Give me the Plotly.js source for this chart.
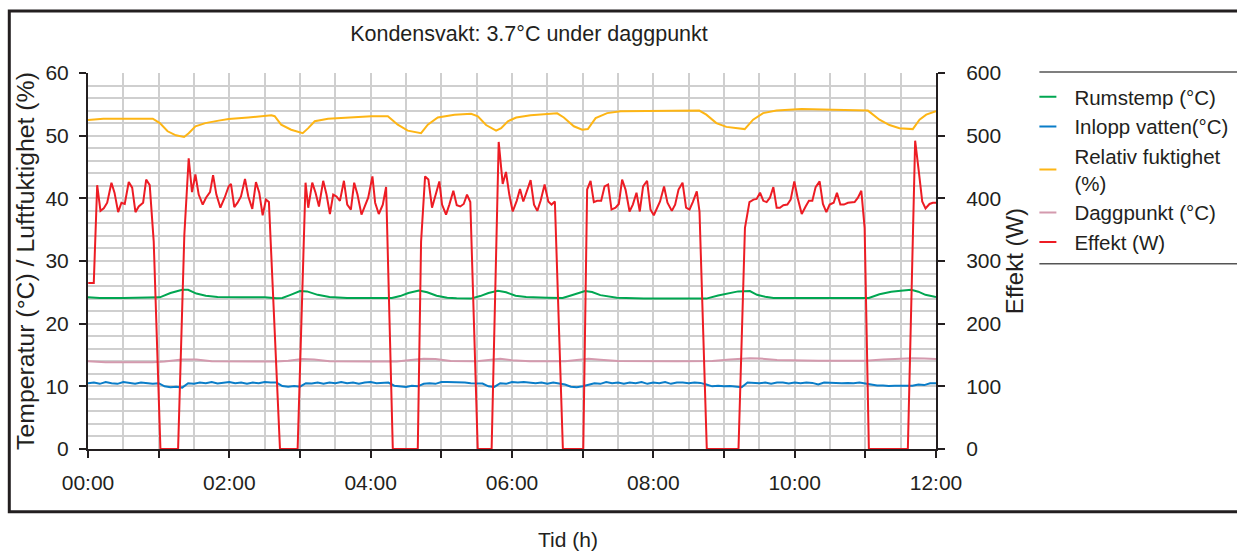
<!DOCTYPE html>
<html>
<head>
<meta charset="utf-8">
<script src="https://cdn.plot.ly/plotly-3.0.1.min.js"></script>
<style>html,body{margin:0;padding:0;background:#fff;}#chart{width:1237px;height:552px;}</style>
</head>
<body>
<div id="chart"></div>
<script>
// ---- data (time in minutes from 00:00) ----
const xTickVals = [0,60,120,180,240,300,360,420,480,540,600,660,720];
const xTickText = ["00:00","","02:00","","04:00","","06:00","","08:00","","10:00","","12:00"];

const rumsTid = [0,10,30,55,61,70,80,85,92,100,110,130,150,160,165,172,180,186,195,205,220,240,258,265,272,281,288,296,305,313,325,333,340,348,355,363,372,390,403,410,416,422,428,435,449,472,500,525,535,545,552,562,568,575,582,600,640,663,672,682,690,699,705,711,720];
const rumstemp = [24.2,24.1,24.1,24.1,24.2,24.9,25.4,25.4,24.8,24.45,24.25,24.2,24.2,24.05,24.1,24.6,25.2,25.15,24.6,24.25,24.1,24.1,24.1,24.4,24.9,25.3,25.0,24.45,24.15,24.05,24.0,24.4,24.9,25.25,25.0,24.45,24.25,24.15,24.1,24.5,24.9,25.2,25.05,24.55,24.15,24.0,24.0,24.0,24.5,24.95,25.15,25.2,24.6,24.3,24.1,24.1,24.05,24.1,24.7,25.1,25.25,25.4,25.1,24.6,24.25];

const inloppTid = [0,5,10,15,20,25,30,35,40,45,50,55,60,65,70,75,80,85,90,95,100,105,110,115,120,125,130,135,140,145,150,155,160,165,170,175,180,185,190,195,200,205,210,215,220,225,230,235,240,245,250,255,260,265,270,275,280,285,290,295,300,305,310,315,320,325,330,335,340,345,350,355,360,365,370,375,380,385,390,395,400,405,410,415,420,425,430,435,440,445,450,455,460,465,470,475,480,485,490,495,500,505,510,515,520,525,530,535,540,545,550,555,560,565,570,575,580,585,590,595,600,605,610,615,620,625,630,635,640,645,650,655,660,665,670,675,680,685,690,695,700,705,710,715,720];
const inlopp = [10.5,10.6,10.4,10.7,10.5,10.4,10.7,10.6,10.4,10.6,10.5,10.4,10.5,10.0,9.85,9.95,9.8,10.5,10.4,10.6,10.5,10.7,10.45,10.6,10.7,10.5,10.6,10.4,10.6,10.5,10.7,10.6,10.6,10.05,9.95,10.05,9.95,10.5,10.45,10.6,10.4,10.6,10.5,10.7,10.5,10.6,10.4,10.6,10.7,10.5,10.6,10.6,10.1,9.95,9.9,10.1,10.0,10.4,10.5,10.4,10.7,10.7,10.7,10.6,10.6,10.5,10.5,10.45,10.0,9.9,10.5,10.4,10.7,10.6,10.7,10.6,10.5,10.6,10.4,10.6,10.5,10.3,9.95,9.85,10.0,10.3,10.5,10.4,10.7,10.5,10.6,10.4,10.6,10.5,10.7,10.4,10.6,10.5,10.7,10.4,10.6,10.6,10.5,10.6,10.55,10.3,10.0,10.1,10.0,10.05,10.0,9.85,10.6,10.55,10.5,10.6,10.4,10.6,10.6,10.45,10.6,10.5,10.6,10.55,10.3,10.6,10.55,10.6,10.5,10.55,10.5,10.6,10.45,10.3,10.15,10.15,10.05,10.1,10.1,10.1,10.1,10.3,10.2,10.5,10.5];

const fuktTid = [0,13,55,61,67.6,74.6,81.6,85.5,91.2,99.6,110.9,119.4,136,155.7,158.5,164,172.5,182.3,187,192.5,203.8,220.8,240.6,254.6,263,271.5,282.8,288.5,297,311.2,325.3,331,338,346.5,350.8,356.5,363.6,375.8,398.4,404,412.5,419.6,424.4,431,440.8,452.2,484.7,519,525,533.5,542,557.6,564.7,573.2,584.5,605.9,632.5,662.2,672,680.5,689,700.3,706,711.7,720];
const fuktighet = [52.5,52.7,52.7,52.0,50.7,50.05,49.8,50.4,51.5,52.0,52.4,52.65,52.9,53.25,53.1,51.75,50.95,50.4,51.2,52.3,52.7,52.9,53.1,53.1,51.75,50.8,50.4,51.75,52.9,53.35,53.5,53.1,51.7,50.8,51.2,52.3,52.9,53.25,53.56,52.9,51.5,50.95,51.05,52.8,53.6,53.9,54.0,54.0,53.35,52.0,51.4,51.05,52.55,53.6,54.0,54.25,54.15,54.0,52.55,51.7,51.2,51.05,52.55,53.35,53.9];

const daggTid = [0,15,55,65,80,92,105,130,160,170,182,192,205,240,262,272,285,295,308,330,340,350,360,375,405,415,425,435,450,500,530,545,562,570,585,620,660,675,690,700,710,720];
const daggpunkt = [14.0,13.85,13.85,13.95,14.3,14.3,14.0,13.95,13.95,14.1,14.35,14.3,14.0,13.95,13.95,14.15,14.4,14.35,14.05,14.0,14.2,14.4,14.15,14.0,14.0,14.2,14.4,14.25,14.05,14.0,14.05,14.3,14.5,14.45,14.2,14.1,14.1,14.3,14.45,14.5,14.45,14.35];

const effektTid = [0.2,4.9,7.8,10.6,13.4,16.3,19.9,22.5,25.6,28.4,31.2,34.6,37.5,40.3,43.1,46.8,49.4,52.4,55.8,61.5,76.5,81.8,85.5,88.3,91.2,94,97.4,100.2,103.6,106.2,109,112.4,116,119.4,121.4,124.2,127,129.9,133.3,136.1,139.5,142.6,145.4,148.3,151.1,153.6,163,178,184.7,187,190.4,193.2,196.1,199.7,202.5,205.4,208.2,211,213.9,217.3,220.1,223.2,226,228.8,232.2,235.1,237.9,241.5,243.8,246.9,250.3,253.1,258.8,280,282.8,286.2,289,292.1,295,298.3,300.6,304,306.8,310.2,313.1,316.1,319,321.8,324.6,330.9,342.7,348.7,352.1,354.9,357.7,360.6,364,366.8,369.6,372.4,375.8,378.7,381.5,384.3,387.7,390.8,393.6,396.4,403.2,420.5,423.8,426.7,429.5,432.3,435.7,438.6,441.6,444.5,447.9,450.7,453.5,456.4,459.8,462.6,465.7,468.5,471.3,474.7,477.6,480.4,483,485.7,489.1,492,495.7,498.5,501.4,504.8,507.8,510.7,513.5,516.9,519.2,525.4,552.3,557.8,561.6,565,567.7,570.6,573.4,576.2,579,581.9,584.7,587.5,590.4,593.8,596.6,599.7,602.5,606,609.3,612.1,615,617.8,621.2,624,626.9,629.7,633.1,635.9,638.8,641.8,645.2,648.1,650.9,653.7,656.6,659.4,663,696.1,702.3,705.4,708.3,711.1,714.5,717.3,720];
const effekt = [265,265,421,380,384,393,425,409,378,393,391,426,417,378,387,393,430,421,331,0,0,342,464,410,438,406,390,401,410,437,406,385,401,419,423,386,393,403,431,403,383,426,409,373,398,394,0,0,425,385,425,409,387,428,406,375,406,403,396,428,390,382,425,406,374,387,401,435,393,375,390,418,0,0,331,435,430,385,403,427,390,374,390,412,389,387,391,406,394,0,0,490,423,442,406,379,396,415,395,411,429,390,380,396,422,395,390,395,0,0,414,428,394,396,396,419,422,382,385,391,430,414,379,390,409,379,419,428,382,373,385,395,419,393,380,390,414,425,385,382,394,411,379,0,0,353,394,398,399,409,396,394,401,418,385,385,389,390,398,427,401,375,387,396,396,418,427,391,378,390,393,409,390,390,393,394,394,401,412,353,0,0,492,443,395,384,391,393,393];

const seriesNames = ["Rumstemp (°C)","Inlopp vatten(°C)","Relativ fuktighet<br>(%)","Daggpunkt (°C)","Effekt (W)"];
const seriesColors = ["#00a651","#0a7dc8","#fdb515","#d49aae","#ed1c24"];

// ---- traces ----
const traces = [
  {x: rumsTid, y: rumstemp},
  {x: inloppTid, y: inlopp},
  {x: fuktTid, y: fuktighet},
  {x: daggTid, y: daggpunkt},
  {x: effektTid, y: effekt, yaxis: 'y2'}
].map((t, i) => Object.assign({
  type: 'scatter', mode: 'lines', name: seriesNames[i],
  line: {color: seriesColors[i], width: 2}, hoverinfo: 'skip'
}, t));

const ink = '#231f20';
const grid = '#cfcfcf';
const L = 87.5, R = 936.5, T = 73, B = 449.5, W = 1237, H = 552;
const px = v => (v - L) / (R - L);
const py = v => (B - v) / (B - T);

const layout = {
  width: W, height: H,
  margin: {l: L, r: W - R, t: T, b: H - B, pad: 0, autoexpand: false},
  paper_bgcolor: '#ffffff', plot_bgcolor: '#ffffff',
  font: {family: 'Liberation Sans, Arial, Helvetica, sans-serif', size: 21, color: ink},
  showlegend: true,
  title: {text: 'Kondensvakt: 3.7°C under daggpunkt', x: px(529), xref: 'paper', xanchor: 'center',
          y: 1 - 33 / H, yref: 'container', yanchor: 'middle', font: {size: 21.5, color: ink}},
  xaxis: {
    range: [0, 720], tickmode: 'array', tickvals: xTickVals, ticktext: xTickText,
    ticks: 'outside', ticklen: 7, tickwidth: 2, tickcolor: ink,
    showline: true, linecolor: ink, linewidth: 2, zeroline: false,
    showgrid: true, gridcolor: grid, gridwidth: 2,
    minor: {tickmode: 'array', tickvals: [30,90,150,210,270,330,390,450,510,570,630,690], showgrid: true, gridcolor: grid, gridwidth: 2, ticks: ''},
    ticklabelstandoff: 7, automargin: false, tickfont: {size: 21}
  },
  yaxis: {
    range: [0, 60], tickmode: 'linear', tick0: 0, dtick: 10,
    ticks: 'outside', ticklen: 7, tickwidth: 2, tickcolor: ink,
    showline: true, linecolor: ink, linewidth: 2, zeroline: false,
    showgrid: true, gridcolor: grid, gridwidth: 2,
    minor: {tick0: 0, dtick: 2, showgrid: true, gridcolor: grid, gridwidth: 2, ticks: ''},
    ticklabelstandoff: 6, automargin: false, tickfont: {size: 21},
    title: {text: 'Temperatur (°C) / Luftfuktighet (%)', standoff: 4, font: {size: 24.8}}
  },
  yaxis2: {
    range: [0, 600], tickmode: 'linear', tick0: 0, dtick: 100, overlaying: 'y', side: 'right',
    ticks: 'outside', ticklen: 7, tickwidth: 2, tickcolor: ink,
    showline: true, linecolor: ink, linewidth: 2, zeroline: false, showgrid: false,
    ticklabelstandoff: 17, automargin: false, tickfont: {size: 21},
    title: {text: 'Effekt (W)', standoff: 6, font: {size: 24}}
  },
  legend: {x: px(1035), xanchor: 'left', y: py(77), yanchor: 'top',
           font: {size: 20.5, color: ink}, itemwidth: 30, bgcolor: 'rgba(0,0,0,0)',
           traceorder: 'normal', tracegroupgap: 0},
  annotations: [
    {text: 'Tid (h)', xref: 'paper', yref: 'paper', x: px(568), y: py(540), xanchor: 'center', yanchor: 'middle',
     showarrow: false, font: {size: 21, color: ink}}
  ],
  shapes: [
    {type: 'rect', xref: 'paper', yref: 'paper', x0: px(8.7), x1: px(1250), y0: py(512.3), y1: py(11),
     line: {color: ink, width: 3}, fillcolor: 'rgba(0,0,0,0)', layer: 'above'},
    {type: 'line', xref: 'paper', yref: 'paper', x0: px(1040), x1: px(1240), y0: py(72), y1: py(72),
     line: {color: '#555', width: 1.5}},
    {type: 'line', xref: 'paper', yref: 'paper', x0: px(1040), x1: px(1240), y0: py(264), y1: py(264),
     line: {color: '#555', width: 1.5}}
  ]
};

Plotly.newPlot('chart', traces, layout, {displayModeBar: false, staticPlot: true}).then(() => {
  // shorter legend line samples, as in the reference
  document.querySelectorAll('#chart .legendlines path').forEach(p => p.setAttribute('d', 'M5,0h17'));
});
</script>
</body>
</html>
